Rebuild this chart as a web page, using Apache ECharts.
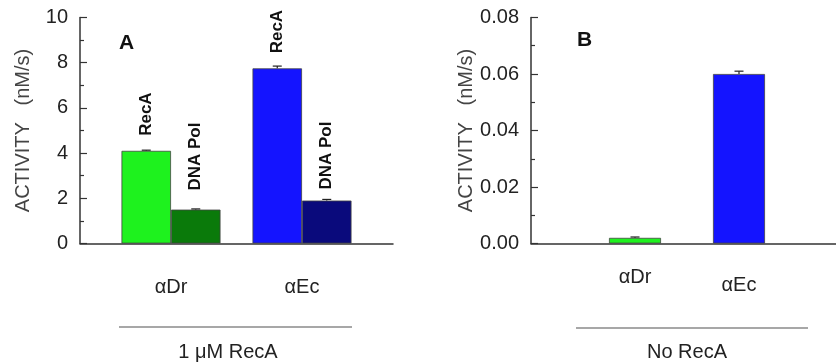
<!DOCTYPE html>
<html>
<head>
<meta charset="utf-8">
<script src="https://cdn.jsdelivr.net/npm/echarts@6/dist/echarts.min.js"></script>
<style>
    html, body { margin: 0; padding: 0; background: #fff; }
    #chart { width: 836px; height: 364px; }
</style>
</head>
<body>
<div id="chart"></div>
<script>
    // panel A: 1 uM RecA
    const catsA = ['αDr', 'αEc'];
    const recaA = [4.1, 7.75];
    const recaErrA = [0.03, 0.1];
    const polA = [1.5, 1.9];
    const polErrA = [0.03, 0.05];
    const ticksA = { min: 0, max: 10, interval: 2 };

    // panel B: no RecA
    const catsB = ['αDr', 'αEc'];
    const valsB = [0.002, 0.06];
    const errB = [0.0003, 0.001];
    const ticksB = { min: 0, max: 0.08, interval: 0.02 };

    const recaColors = ['#1ef21e', '#1414ff'];
    const polColors = ['#0a7a0a', '#0a0a7c'];
    const recaGap = [15, 15];
    const polGap = [19, 11];

    const font = 'Liberation Sans, Arial, sans-serif';
    const axisCol = '#333';

    let chart = echarts.init(document.getElementById('chart'));

    function frameY(idx, range, fmt) {
        return {
            gridIndex: idx, type: 'value', min: range.min, max: range.max, interval: range.interval,
            name: 'ACTIVITY   (nM/s)', nameLocation: 'middle', nameRotate: 90, nameGap: 47,
            nameTextStyle: { fontFamily: font, fontSize: 20, color: '#444' },
            axisLine: { show: true, lineStyle: { color: axisCol, width: 1.5 } },
            axisTick: { show: true, inside: true, length: 7, lineStyle: { color: axisCol, width: 1.2 } },
            minorTick: { show: true, splitNumber: 2, length: 4, lineStyle: { color: axisCol, width: 1.2 } },
            axisLabel: { margin: 12, fontFamily: font, fontSize: 20, color: '#222', formatter: fmt },
            splitLine: { show: false }
        };
    }
    function hiddenY(idx, range) {
        return { gridIndex: idx, type: 'value', min: range.min, max: range.max, show: false };
    }
    function frameX(idx) {
        return {
            gridIndex: idx, type: 'value', min: 0, max: 1,
            axisLine: { show: true, onZero: false, lineStyle: { color: axisCol, width: 1.5 } },
            axisTick: { show: false }, axisLabel: { show: false }, splitLine: { show: false }
        };
    }
    function catX(idx, cats, margin, pads) {
        return {
            gridIndex: idx, type: 'category',
            data: cats.map((c, i) => ({ value: c, textStyle: { padding: [pads[i], 0, 0, 0] } })),
            axisLine: { show: false }, axisTick: { show: false },
            axisLabel: { margin: margin, fontFamily: font, fontSize: 20, color: '#222' }
        };
    }

    function errRender(offset) {
        return function (params, api) {
            let v = api.value(1), e = api.value(2);
            let top = api.coord([api.value(0), v + e]);
            let base = api.coord([api.value(0), v]);
            let cx = top[0] + offset;
            let st = { stroke: '#222', lineWidth: 1.2 };
            return {
                type: 'group',
                children: [
                    { type: 'line', shape: { x1: cx, y1: base[1], x2: cx, y2: top[1] }, style: st },
                    { type: 'line', shape: { x1: cx - 4.5, y1: top[1], x2: cx + 4.5, y2: top[1] }, style: st }
                ]
            };
        };
    }

    function barLabel(name) {
        return {
            show: true, position: 'top', rotate: 90, align: 'left', verticalAlign: 'middle',
            formatter: name, fontFamily: font, fontSize: 17, fontWeight: 'bold', color: '#111'
        };
    }

    let option = {
        backgroundColor: '#fff',
        animation: false,
        grid: [
            { left: 80, top: 17.5, width: 313, height: 226 },
            { left: 105.5, top: 17.5, width: 262, height: 226 },
            { left: 531, top: 17.5, width: 305, height: 226 },
            { left: 583, top: 17.5, width: 208, height: 226 }
        ],
        xAxis: [
            frameX(0),
            catX(1, catsA, 34, [0, 0]),
            frameX(2),
            catX(3, catsB, 24, [0, 8])
        ],
        yAxis: [
            frameY(0, ticksA, v => v),
            hiddenY(1, ticksA),
            frameY(2, ticksB, v => v.toFixed(2)),
            hiddenY(3, ticksB)
        ],
        title: [
            { text: 'A', left: 119, top: 33, padding: 0, textStyle: { fontFamily: font, fontSize: 21, fontWeight: 'bold', color: '#111' } },
            { text: 'B', left: 577, top: 30, padding: 0, textStyle: { fontFamily: font, fontSize: 21, fontWeight: 'bold', color: '#111' } },
            { text: '1 μM RecA', left: 228, top: 342, textAlign: 'center', padding: 0, textStyle: { fontFamily: font, fontSize: 20, fontWeight: 'normal', color: '#222' } },
            { text: 'No RecA', left: 687, top: 342, textAlign: 'center', padding: 0, textStyle: { fontFamily: font, fontSize: 20, fontWeight: 'normal', color: '#222' } }
        ],
        graphic: [
            { type: 'line', shape: { x1: 119, y1: 327, x2: 352, y2: 327 }, style: { stroke: '#8a8a8a', lineWidth: 1.5 } },
            { type: 'line', shape: { x1: 576, y1: 328, x2: 808, y2: 328 }, style: { stroke: '#8a8a8a', lineWidth: 1.5 } }
        ],
        series: [
            {
                name: 'RecA', type: 'bar', xAxisIndex: 1, yAxisIndex: 1, barWidth: 49.5, barGap: '0%',
                itemStyle: { borderColor: '#444', borderWidth: 0.8 },
                label: barLabel('RecA'),
                data: recaA.map((v, i) => ({ value: v, label: { distance: recaGap[i] }, itemStyle: { color: recaColors[i] } }))
            },
            {
                name: 'DNA Pol', type: 'bar', xAxisIndex: 1, yAxisIndex: 1, barWidth: 49.5, barGap: '0%',
                itemStyle: { borderColor: '#444', borderWidth: 0.8 },
                label: barLabel('DNA Pol'),
                data: polA.map((v, i) => ({ value: v, label: { distance: polGap[i] }, itemStyle: { color: polColors[i] } }))
            },
            {
                type: 'custom', xAxisIndex: 1, yAxisIndex: 1, z: 5,
                renderItem: errRender(-24.75),
                data: recaA.map((v, i) => [i, v, recaErrA[i]])
            },
            {
                type: 'custom', xAxisIndex: 1, yAxisIndex: 1, z: 5,
                renderItem: errRender(24.75),
                data: polA.map((v, i) => [i, v, polErrA[i]])
            },
            {
                name: 'No RecA', type: 'bar', xAxisIndex: 3, yAxisIndex: 3, barWidth: 52,
                itemStyle: { borderColor: '#444', borderWidth: 0.8 },
                data: valsB.map((v, i) => ({ value: v, itemStyle: { color: recaColors[i] } }))
            },
            {
                type: 'custom', xAxisIndex: 3, yAxisIndex: 3, z: 5,
                renderItem: errRender(0),
                data: valsB.map((v, i) => [i, v, errB[i]])
            }
        ]
    };
    chart.setOption(option);
</script>
</body>
</html>
